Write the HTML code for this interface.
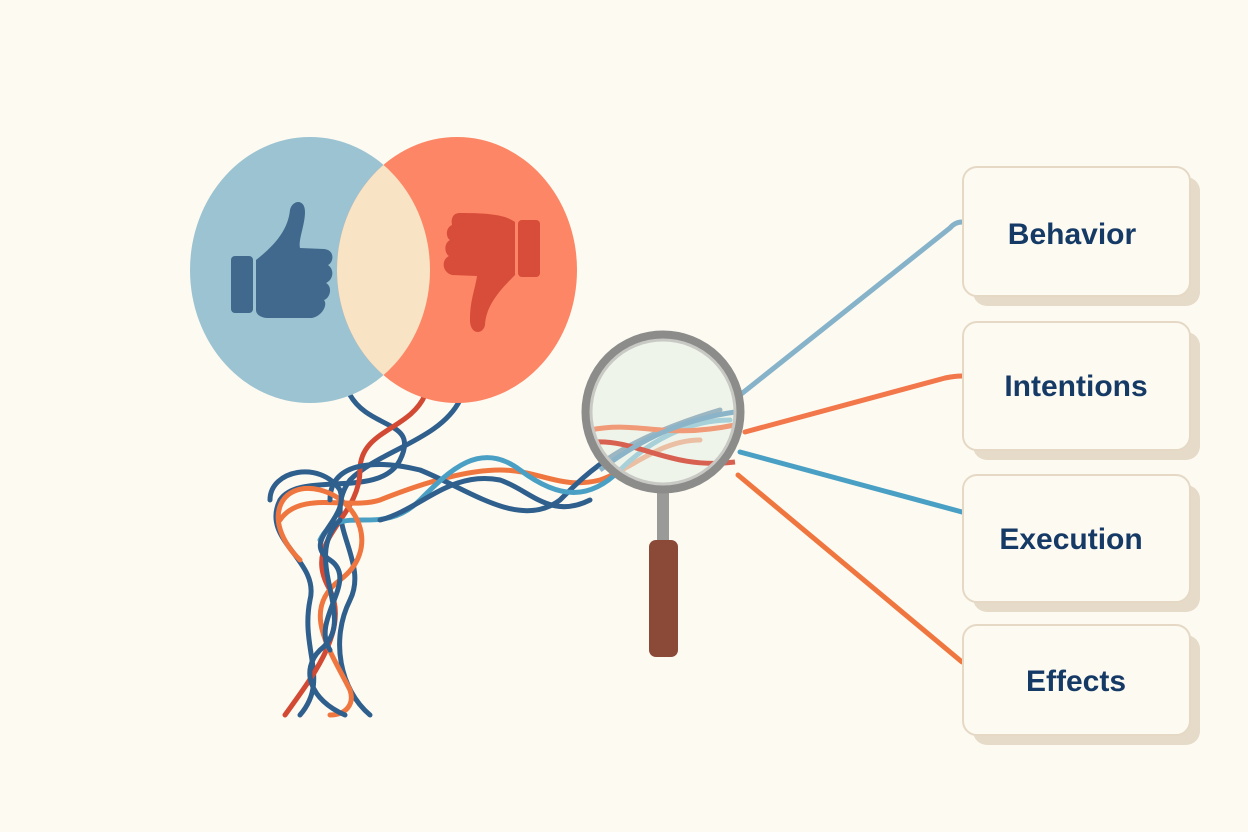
<!DOCTYPE html>
<html><head><meta charset="utf-8"><style>
body{margin:0;background:#fdfaf1;}
svg{display:block}
text{font-family:"Liberation Sans",sans-serif;font-size:30px;fill:#163a66;font-weight:bold}
</style></head><body>
<svg width="1248" height="832" viewBox="0 0 1248 832">
<rect width="1248" height="832" fill="#fdfaf1"/>
<!-- tangle -->
<g fill="none" stroke-width="5" stroke-linecap="round">
<path d="M350 395 C370 430 420 420 400 460 C380 500 300 470 280 500 C260 540 320 560 310 600 C300 650 330 680 300 715" stroke="#2f5f8d"/>
<path d="M460 400 C440 440 380 450 350 480 C320 520 370 560 350 600 C330 640 340 690 370 715" stroke="#2f5f8d"/>
<path d="M425 395 C410 430 360 430 360 470 C360 520 300 540 330 590 C350 630 310 680 285 715" stroke="#d24a33"/>
<path d="M280 520 C300 490 350 510 380 500 C430 480 470 470 500 470 C540 470 560 490 600 480 C630 470 660 440 700 440" stroke="#f0763f"/>
<path d="M330 500 C330 460 380 460 420 470 C470 490 520 530 560 500 C590 470 620 440 720 410" stroke="#2f5f8d"/>
<path d="M320 540 C340 500 380 540 420 500 C450 470 480 440 520 470 C560 500 590 500 620 470 C650 440 690 420 730 420" stroke="#4aa0c4"/>
<path d="M300 560 C260 520 280 480 320 490 C360 500 380 550 340 580 C300 610 330 650 350 690 C355 705 345 715 330 715" stroke="#f0763f"/>
<path d="M340 520 C300 560 360 620 320 650 C300 670 310 700 345 715" stroke="#2f5f8d"/>
<path d="M270 500 C270 470 320 460 340 490 C350 520 300 540 330 560 C360 580 310 620 330 650" stroke="#2f5f8d"/>
<path d="M380 520 C420 510 450 470 500 480 C530 490 550 520 590 500" stroke="#2f5f8d"/>
</g>
<!-- Venn -->
<ellipse cx="310" cy="270" rx="120" ry="133" fill="#9bc3d2"/>
<ellipse cx="457" cy="270" rx="120" ry="133" fill="#fc8665"/>
<clipPath id="c"><ellipse cx="310" cy="270" rx="120" ry="133"/></clipPath>
<ellipse cx="457" cy="270" rx="120" ry="133" fill="#f8e3c4" clip-path="url(#c)"/>
<!-- thumbs up -->
<g fill="#41698d">
<rect x="231" y="256" width="22" height="57" rx="4"/>
<path d="M256 260 C275 245 288 230 290 210 C292 200 305 198 305 212 C305 225 298 240 300 248 L324 249 C335 250 334 262 328 265 C335 270 333 280 326 283 C333 287 330 298 324 300 C328 305 322 316 312 318 L268 318 C262 318 256 315 256 310 Z"/>
</g>
<g fill="#d84c3a">
<rect x="518" y="220" width="22" height="57" rx="4"/>
<path d="M515 222 C505 215 490 213 460 213 C452 213 451 220 452 225 C445 228 446 238 450 240 C443 244 445 254 449 256 C441 260 442 272 452 275 L477 276 C475 290 470 300 470 320 C470 335 483 335 485 325 C486 305 500 290 515 275 Z"/>
</g>
<!-- connector lines -->
<g fill="none" stroke-width="5" stroke-linecap="round">
<path d="M740 395 L950 228 Q955 222 962 222" stroke="#86b3ca"/>
<path d="M745 432 L945 378 Q955 376 962 376" stroke="#f2774a"/>
<path d="M740 452 L962 512" stroke="#4aa0c4"/>
<path d="M738 475 L962 662" stroke="#f0763f"/>
</g>
<!-- magnifier -->
<rect x="657" y="490" width="12" height="60" fill="#9a9a98"/>
<rect x="649" y="540" width="29" height="117" rx="7" fill="#8b4a38"/>
<circle cx="663" cy="412" r="75" fill="#e6f0e6" fill-opacity="0.6"/>
<g fill="none" stroke-width="5">
<path d="M590 430 C640 420 660 440 735 425" stroke="#f09a78"/>
<path d="M595 442 C640 440 670 470 735 462" stroke="#d86050"/>
<path d="M600 470 C640 440 680 420 735 412" stroke="#8cb4c8"/>
</g>
<circle cx="663" cy="412" r="77" fill="none" stroke="#8c8c8a" stroke-width="9"/>
<circle cx="663" cy="412" r="72" fill="none" stroke="#c8c8c4" stroke-width="3"/>
<!-- boxes -->
<g>
<rect x="973" y="177" width="227" height="129" rx="14" fill="#e6dac8"/>
<rect x="963" y="167" width="227" height="129" rx="14" fill="#fdfaf1" stroke="#e5d9c6" stroke-width="2"/>
<text x="1072" y="244" text-anchor="middle">Behavior</text>
<rect x="973" y="332" width="227" height="128" rx="14" fill="#e6dac8"/>
<rect x="963" y="322" width="227" height="128" rx="14" fill="#fdfaf1" stroke="#e5d9c6" stroke-width="2"/>
<text x="1076" y="396" text-anchor="middle">Intentions</text>
<rect x="973" y="485" width="227" height="127" rx="14" fill="#e6dac8"/>
<rect x="963" y="475" width="227" height="127" rx="14" fill="#fdfaf1" stroke="#e5d9c6" stroke-width="2"/>
<text x="1071" y="549" text-anchor="middle">Execution</text>
<rect x="973" y="635" width="227" height="110" rx="14" fill="#e6dac8"/>
<rect x="963" y="625" width="227" height="110" rx="14" fill="#fdfaf1" stroke="#e5d9c6" stroke-width="2"/>
<text x="1076" y="691" text-anchor="middle">Effects</text>
</g>
</svg>
</body></html>
